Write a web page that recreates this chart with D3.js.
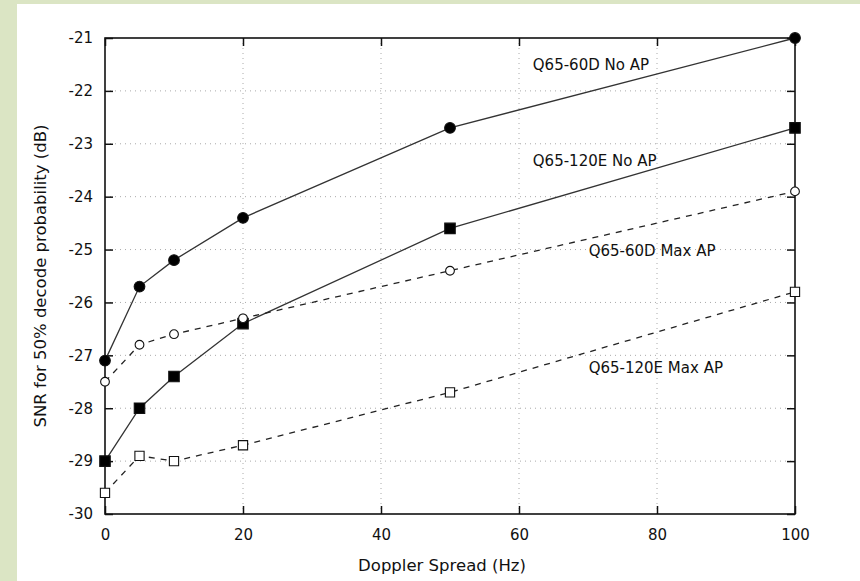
<!DOCTYPE html>
<html>
<head>
<meta charset="utf-8">
<script src="https://cdn.jsdelivr.net/npm/d3@7"></script>
<style>
  body { margin: 0; background: #fff; }
  svg { display: block; }
  text { font-family: "DejaVu Sans", sans-serif; fill: #111; }
</style>
</head>
<body>
<div id="chart"></div>
<script>
// doppler spread (Hz)
var spread = [0, 5, 10, 20, 50, 100];
// SNR for 50% decode probability (dB)
var q60NoAP  = [-27.1, -25.7, -25.2, -24.4, -22.7, -21.0];
var q120NoAP = [-29.0, -28.0, -27.4, -26.4, -24.6, -22.7];
var q60Max   = [-27.5, -26.8, -26.6, -26.3, -25.4, -23.9];
var q120Max  = [-29.6, -28.9, -29.0, -28.7, -27.7, -25.8];
var seriesNames = ["Q65-60D No AP", "Q65-120E No AP", "Q65-60D Max AP", "Q65-120E Max AP"];
var xTicks = [0, 20, 40, 60, 80, 100];
var yTicks = [-21, -22, -23, -24, -25, -26, -27, -28, -29, -30];

var W = 860, H = 581;
var margin = { top: 38, right: 65, bottom: 67, left: 105 },
    width  = W - margin.left - margin.right,
    height = H - margin.top - margin.bottom;

var svg = d3.select('#chart').append('svg')
    .attr('width', W)
    .attr('height', H);

// page border strips
svg.append('rect').attr('x', 0).attr('y', 0).attr('width', W).attr('height', 4).attr('fill', '#dbe5c4');
svg.append('rect').attr('x', 0).attr('y', 0).attr('width', 17).attr('height', H).attr('fill', '#dbe5c4');

var g = svg.append('g')
    .attr('transform', 'translate(' + margin.left + ',' + margin.top + ')');

var x = d3.scaleLinear().domain([0, 100]).range([0, width]);
var y = d3.scaleLinear().domain([-30, -21]).range([height, 0]);

// grid
g.selectAll('.hgrid')
    .data(yTicks.filter(d => d > -30 && d < -21))
    .enter().append('line')
    .attr('x1', 0).attr('x2', width)
    .attr('y1', d => y(d)).attr('y2', d => y(d))
    .attr('stroke', '#aaa').attr('stroke-width', 1)
    .attr('stroke-dasharray', '1,4');
g.selectAll('.vgrid')
    .data(xTicks.filter(d => d > 0 && d < 100))
    .enter().append('line')
    .attr('x1', d => x(d)).attr('x2', d => x(d))
    .attr('y1', 0).attr('y2', height)
    .attr('stroke', '#aaa').attr('stroke-width', 1)
    .attr('stroke-dasharray', '1,4');

// axes with inward ticks
var axL = g.append('g').call(d3.axisLeft(y).tickValues(yTicks).tickSize(-8).tickPadding(12).tickFormat(d => String(d)));
var axR = g.append('g').attr('transform', 'translate(' + width + ',0)')
    .call(d3.axisRight(y).tickValues(yTicks).tickSize(-8).tickFormat(''));
var axB = g.append('g').attr('transform', 'translate(0,' + height + ')')
    .call(d3.axisBottom(x).tickValues(xTicks).tickSize(-8).tickPadding(15));
var axT = g.append('g')
    .call(d3.axisTop(x).tickValues(xTicks).tickSize(-8).tickFormat(''));

[axL, axR, axB, axT].forEach(function (a) {
    a.selectAll('.domain').remove();
    a.selectAll('line').attr('stroke', '#111').attr('stroke-width', 1.5);
    a.selectAll('text').style('font-size', '15px').attr('fill', '#111');
});

g.append('rect')
    .attr('width', width).attr('height', height)
    .attr('fill', 'none').attr('stroke', '#111').attr('stroke-width', 1.6);

// series
var series = [
    { name: seriesNames[0], vals: q60NoAP,  dash: null,  shape: 'circle', fill: true },
    { name: seriesNames[1], vals: q120NoAP, dash: null,  shape: 'square', fill: true },
    { name: seriesNames[2], vals: q60Max,   dash: '6,6', shape: 'circle', fill: false },
    { name: seriesNames[3], vals: q120Max,  dash: '6,6', shape: 'square', fill: false }
];

var line = d3.line().x(d => x(d[0])).y(d => y(d[1]));

series.forEach(function (s) {
    var pts = spread.map((d, i) => [d, s.vals[i]]);
    g.append('path')
        .datum(pts)
        .attr('d', line)
        .attr('fill', 'none')
        .attr('stroke', s.fill ? '#333' : '#222')
        .attr('stroke-width', 1.3)
        .attr('stroke-dasharray', s.dash);

    var sym = d3.symbol()
        .type(s.shape == 'circle' ? d3.symbolCircle : d3.symbolSquare)
        .size(s.fill ? (s.shape == 'circle' ? 90 : 110) : (s.shape == 'circle' ? 60 : 85));

    g.selectAll(null)
        .data(pts)
        .enter().append('path')
        .attr('transform', d => 'translate(' + x(d[0]) + ',' + y(d[1]) + ')')
        .attr('d', sym)
        .attr('fill', s.fill ? '#000' : '#fff')
        .attr('stroke', '#111')
        .attr('stroke-width', 1.1);
});

// series labels
var labels = [
    { t: seriesNames[0], x: 62.0, y: -21.5 },
    { t: seriesNames[1], x: 62.0, y: -23.33 },
    { t: seriesNames[2], x: 70.1, y: -25.03 },
    { t: seriesNames[3], x: 70.1, y: -27.24 }
];
g.selectAll('.lab')
    .data(labels)
    .enter().append('text')
    .attr('x', d => x(d.x))
    .attr('y', d => y(d.y))
    .attr('dy', '0.35em')
    .style('font-size', '15px')
    .text(d => d.t);

// axis titles
svg.append('text')
    .attr('x', margin.left + width / 2 - 8)
    .attr('y', 571)
    .attr('text-anchor', 'middle')
    .style('font-size', '16.5px')
    .text('Doppler Spread (Hz)');

svg.append('text')
    .attr('transform', 'translate(46,' + (margin.top + height / 2) + ') rotate(-90)')
    .attr('text-anchor', 'middle')
    .style('font-size', '16.5px')
    .text('SNR for 50% decode probability (dB)');
</script>
</body>
</html>
